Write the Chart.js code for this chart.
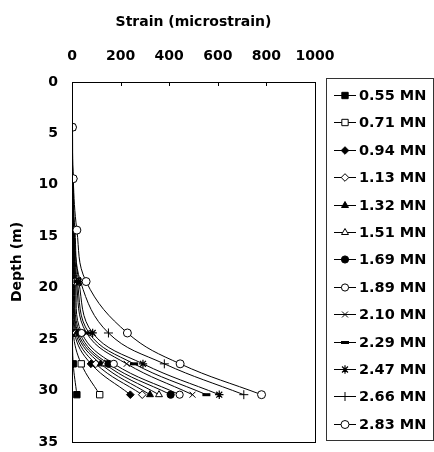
<!DOCTYPE html>
<html>
<head>
<meta charset="utf-8">
<script src="https://cdn.jsdelivr.net/npm/chart.js@4/dist/chart.umd.min.js"></script>
<style>
html,body{margin:0;padding:0;background:#fff;}
#wrap{width:434px;height:452px;}
</style>
</head>
<body>
<div id="wrap"><canvas id="c" width="434" height="452"></canvas></div>
<script>
// ---- data ----
const depths = [4.4, 9.4, 14.4, 19.4, 24.4, 27.4, 30.4];
const seriesLabels = ['0.55 MN','0.71 MN','0.94 MN','1.13 MN','1.32 MN','1.51 MN','1.69 MN','1.89 MN','2.10 MN','2.29 MN','2.47 MN','2.66 MN','2.83 MN'];
const s055 = [0, 0, 0, 0, 2, 5, 20];
const s071 = [0, 1, 2, 2, 5, 38, 114];
const s094 = [0, 1, 3, 4, 10, 78, 240];
const s113 = [0, 1, 3, 6, 15, 98, 289];
const s132 = [0, 2, 4, 8, 20, 118, 321];
const s151 = [0, 2, 5, 10, 25, 135, 358];
const s169 = [0, 2, 5, 12, 32, 150, 406];
const s189 = [0, 2, 6, 15, 40, 172, 443];
const s210 = [0, 3, 7, 18, 60, 225, 496];
const s229 = [0, 3, 8, 22, 70, 255, 553];
const s247 = [0, 3, 9, 28, 85, 292, 606];
const s266 = [1, 4, 12, 35, 150, 380, 707];
const s283 = [2, 5, 20, 58, 228, 445, 780];
const xTicks = [0, 200, 400, 600, 800, 1000];
const yTicks = [0, 5, 10, 15, 20, 25, 30, 35];

const allSeries = [s055,s071,s094,s113,s132,s151,s169,s189,s210,s229,s247,s266,s283];
// marker styles: [pointStyle, filled, radius, borderWidth]
const markers = [
  ['rect', true, 4.5, 1],
  ['rect', false, 4.5, 1],
  ['rectRot', true, 3.8, 1],
  ['rectRot', false, 3.8, 1],
  ['triangle', true, 4, 1],
  ['triangle', false, 4, 1],
  ['circle', true, 3.6, 1],
  ['circle', false, 3.6, 1],
  ['crossRot', false, 4.2, 1],
  ['line', false, 4, 3],
  ['star', false, 4.2, 1.2],
  ['cross', false, 4.5, 1],
  ['circle', false, 4, 1]
];

const FONT = '"DejaVu Sans", sans-serif';

const datasets = allSeries.map((vals, i) => {
  const m = markers[i];
  return {
    label: seriesLabels[i],
    data: vals.map((v, k) => ({x: v, y: depths[k]})),
    order: allSeries.length - i,
    borderColor: '#000',
    borderWidth: 1,
    backgroundColor: m[1] ? '#000' : '#fff',
    pointStyle: m[0],
    pointRadius: m[2],
    pointBorderWidth: m[3],
    pointBackgroundColor: m[1] ? '#000' : '#fff',
    pointBorderColor: '#000',
    tension: 0.4,
    fill: false
  };
});

const PL = 72, PT = 82, PR = 315, PB = 442;

const framePlugin = {
  id: 'frame',
  afterDraw(chart) {
    const ctx = chart.ctx;
    const a = chart.chartArea;
    ctx.save();
    ctx.strokeStyle = '#000';
    ctx.lineWidth = 1;
    ctx.strokeRect(Math.round(a.left) + 0.5, Math.round(a.top) + 0.5, Math.round(a.right - a.left), Math.round(a.bottom - a.top));
    // inner tick marks on top axis
    const xs = chart.scales.x;
    xTicks.forEach(t => {
      const px = Math.round(xs.getPixelForValue(t)) + 0.5;
      ctx.beginPath();
      ctx.moveTo(px, a.top);
      ctx.lineTo(px, a.top + 4);
      ctx.stroke();
    });
    // legend box
    const lx = 326, ly = 78, lw = 107, lh = 362;
    ctx.strokeStyle = '#333';
    ctx.strokeRect(lx + 0.5, ly + 0.5, lw, lh);
    ctx.font = 'bold 14.5px ' + FONT;
    ctx.textBaseline = 'middle';
    ctx.textAlign = 'left';
    chart.data.datasets.forEach((ds, i) => {
      const y = Math.round(ly + 17 + i * 27.4) + 0.5;
      ctx.strokeStyle = ds.borderColor;
      ctx.lineWidth = 1;
      ctx.beginPath();
      ctx.moveTo(334, y);
      ctx.lineTo(356, y);
      ctx.stroke();
      ctx.fillStyle = ds.pointBackgroundColor;
      ctx.strokeStyle = ds.pointBorderColor;
      ctx.lineWidth = ds.pointBorderWidth;
      Chart.helpers.drawPoint(ctx, {pointStyle: ds.pointStyle, radius: ds.pointRadius, rotation: 0, borderWidth: ds.pointBorderWidth}, 345, y);
      ctx.fillStyle = '#000';
      ctx.fillText(ds.label, 359, y + 1);
    });
    ctx.restore();
  }
};

new Chart(document.getElementById('c'), {
  type: 'line',
  data: { datasets },
  options: {
    responsive: false,
    animation: false,
    layout: { padding: { top: 0, left: 0, right: 434 - PR, bottom: 452 - PB } },
    plugins: { legend: { display: false }, tooltip: { enabled: false } },
    scales: {
      x: {
        type: 'linear',
        position: 'top',
        min: 0, max: 1000,
        afterBuildTicks: s => { s.ticks = xTicks.map(v => ({value: v})); },
        afterFit: s => { s.height = PT; s.paddingLeft = 0; s.paddingRight = 0; },
        grid: { display: false, drawTicks: false },
        border: { display: false },
        ticks: { color: '#000', padding: 17, autoSkip: false, maxRotation: 0, minRotation: 0,
                 callback: v => String(v),
                 font: { family: FONT, size: 14, weight: 'bold' } },
        title: { display: true, text: 'Strain (microstrain)', color: '#000', padding: { top: 14, bottom: 0 }, font: { family: FONT, size: 14, weight: 'bold' } }
      },
      y: {
        type: 'linear',
        reverse: true,
        min: 0, max: 35,
        afterBuildTicks: s => { s.ticks = yTicks.map(v => ({value: v})); },
        afterFit: s => { s.width = PL; s.paddingTop = 0; s.paddingBottom = 0; },
        grid: { display: false, drawTicks: false },
        border: { display: false },
        ticks: { color: '#000', padding: 14, callback: v => String(v), font: { family: FONT, size: 14, weight: 'bold' } },
        title: { display: true, text: 'Depth (m)', color: '#000', padding: { top: 9, bottom: 0 }, font: { family: FONT, size: 14, weight: 'bold' } }
      }
    }
  },
  plugins: [framePlugin]
});
</script>
</body>
</html>
